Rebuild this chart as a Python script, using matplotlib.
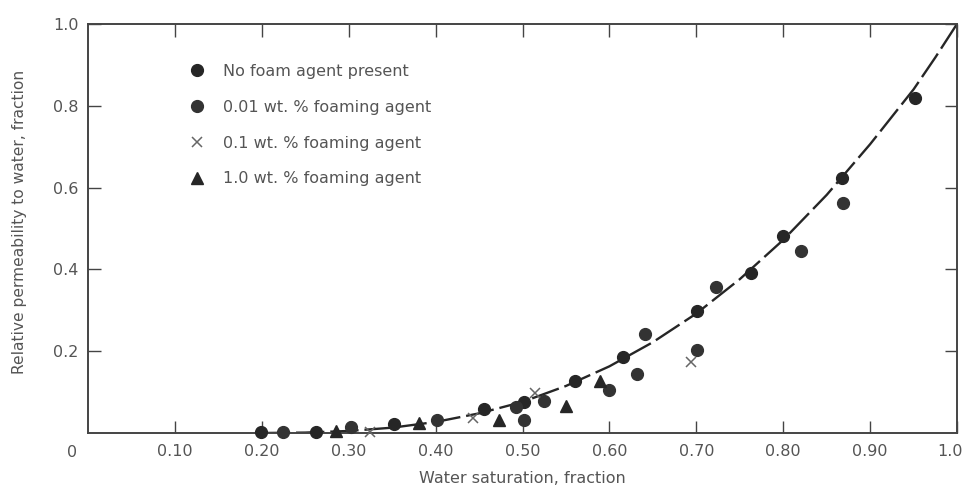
import matplotlib
matplotlib.use("Agg")
from matplotlib import pyplot as plt
from matplotlib import transforms

# curva ajustada
curvaSw = [0.20, 0.25, 0.30, 0.35, 0.40, 0.45, 0.50, 0.55, 0.60, 0.65,
           0.70, 0.75, 0.80, 0.85, 0.90, 0.95, 0.975, 1.00]
curvaKrw = [0.0, 0.001, 0.005, 0.013, 0.027, 0.048, 0.076, 0.115, 0.163, 0.222,
            0.292, 0.376, 0.472, 0.582, 0.706, 0.840, 0.918, 1.0]

# sin agente espumante
sinEspumaSw = [0.199, 0.262, 0.352, 0.456, 0.502, 0.560, 0.616, 0.701, 0.763, 0.800, 0.868, 0.952]
sinEspumaKrw = [0.002, 0.003, 0.021, 0.058, 0.076, 0.127, 0.186, 0.299, 0.390, 0.482, 0.624, 0.820]

# 0.01 wt. %
agente001Sw = [0.224, 0.303, 0.402, 0.493, 0.502, 0.525, 0.600, 0.632, 0.641, 0.701, 0.723, 0.821, 0.869]
agente001Krw = [0.002, 0.014, 0.031, 0.064, 0.033, 0.078, 0.106, 0.145, 0.243, 0.204, 0.356, 0.445, 0.563]

# 0.1 wt. %
agente01Sw = [0.324, 0.443, 0.514, 0.694]
agente01Krw = [0.003, 0.036, 0.097, 0.173]

# 1.0 wt. %
agente10Sw = [0.285, 0.381, 0.473, 0.550, 0.589]
agente10Krw = [0.006, 0.025, 0.033, 0.066, 0.127]

ticksX = [0.1, 0.2, 0.3, 0.4, 0.5, 0.6, 0.7, 0.8, 0.9, 1.0]
etiquetasX = ["0.10", "0.20", "0.30", "0.40", "0.50", "0.60", "0.70", "0.80", "0.90", "1.0"]
ticksY = [0.2, 0.4, 0.6, 0.8, 1.0]
etiquetasY = ["0.2", "0.4", "0.6", "0.8", "1.0"]

NEGRO = "#262626"
GRIS = "#555555"
TAM = 11.5

plt.rcParams['font.family'] = ['DejaVu Sans']

fig = plt.figure(figsize=(9.67, 4.88), dpi=100)
ax = fig.add_axes([0.091, 0.1127, 0.8987, 0.8383])

ax.plot(curvaSw, curvaKrw, color=NEGRO, linewidth=1.7, dashes=(12, 2.5), zorder=2)

ax.plot(sinEspumaSw, sinEspumaKrw, linestyle='none', marker='o', markersize=8.5,
        color=NEGRO, clip_on=False, zorder=3, label="No foam agent present")
ax.plot(agente001Sw, agente001Krw, linestyle='none', marker='o', markersize=8.5,
        color="#333333", clip_on=False, zorder=3, label="0.01 wt. % foaming agent")
ax.plot(agente01Sw, agente01Krw, linestyle='none', marker='x', markersize=7,
        markeredgewidth=1.1, color="#666666", clip_on=False, zorder=3,
        label="0.1 wt. % foaming agent")
ax.plot(agente10Sw, agente10Krw, linestyle='none', marker='^', markersize=8.5,
        color=NEGRO, clip_on=False, zorder=3, label="1.0 wt. % foaming agent")

ax.set_xlim(0, 1.0)
ax.set_ylim(0, 1.0)

ax.set_xticks(ticksX)
ax.set_xticklabels(etiquetasX)
ax.set_yticks(ticksY)
ax.set_yticklabels(etiquetasY)
ax.tick_params(direction='in', length=9, width=1, color="#444444",
               top=True, right=True, labelsize=TAM, labelcolor=GRIS)
ax.tick_params(axis='y', pad=7)
ax.tick_params(axis='x', pad=8)

# correr un poco la ultima etiqueta para que no se corte
ultima = ax.get_xticklabels()[-1]
ultima.set_transform(ultima.get_transform() +
                     transforms.ScaledTranslation(-5 / 72, 0, fig.dpi_scale_trans))

for lado in ax.spines.values():
    lado.set_color("#444444")
    lado.set_linewidth(1.4)

# origen
ax.text(-0.012, -0.03, "0", transform=ax.transAxes, ha='right', va='top',
        fontsize=TAM, color=GRIS)

ax.set_xlabel("Water saturation, fraction", fontsize=TAM, color=GRIS)
ax.xaxis.set_label_coords(0.5, -0.093)
ax.set_ylabel("Relative permeability to water, fraction", fontsize=11.2, color=GRIS)
ax.yaxis.set_label_coords(-0.07, 0.516)

ax.legend(loc='upper left', bbox_to_anchor=(0.1, 0.937), frameon=False,
          fontsize=TAM, labelspacing=1.3, handletextpad=1.1, handlelength=1.0,
          labelcolor=GRIS)

plt.savefig("out.png", dpi=100)
